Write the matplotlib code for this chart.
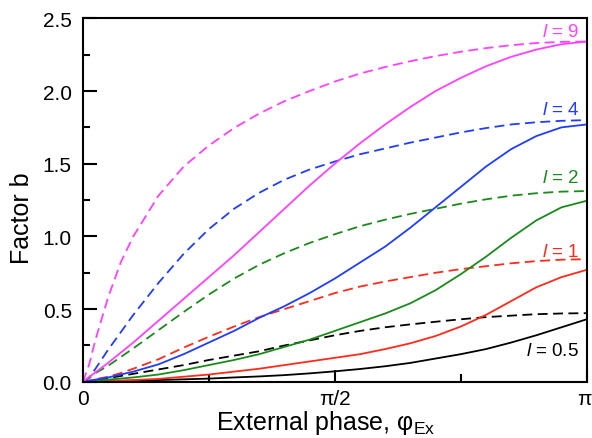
import numpy as np
import matplotlib
matplotlib.use("Agg")
import matplotlib.pyplot as plt
from matplotlib.transforms import ScaledTranslation

plt.rcParams['font.family'] = ['Liberation Sans', 'DejaVu Sans']
plt.rcParams['mathtext.fontset'] = 'custom'
plt.rcParams['mathtext.rm'] = 'Liberation Sans'
plt.rcParams['mathtext.it'] = 'Liberation Sans:italic'

# x positions in units of pi
x_solid = [0, 0.05, 0.1, 0.15, 0.2, 0.25, 0.3, 0.35, 0.4, 0.45, 0.5,
           0.55, 0.6, 0.65, 0.7, 0.75, 0.8, 0.85, 0.9, 0.95, 1.0]
x_dash = [0, 0.0125, 0.025, 0.05, 0.075, 0.1, 0.15, 0.2, 0.25, 0.3, 0.35, 0.4,
          0.45, 0.5, 0.55, 0.6, 0.65, 0.7, 0.75, 0.8, 0.85, 0.9, 0.95, 1.0]

# solid curves
b9 = [0, 0.13, 0.27, 0.42, 0.57, 0.72, 0.87, 1.03, 1.19, 1.35, 1.5,
      1.64, 1.77, 1.89, 2.0, 2.09, 2.17, 2.235, 2.285, 2.322, 2.34]
b4 = [0, 0.03, 0.07, 0.12, 0.19, 0.27, 0.35, 0.44, 0.52, 0.61, 0.71,
      0.82, 0.93, 1.06, 1.2, 1.34, 1.48, 1.6, 1.69, 1.75, 1.77]
b2 = [0, 0.015, 0.03, 0.05, 0.08, 0.115, 0.15, 0.19, 0.24, 0.29, 0.35,
      0.41, 0.47, 0.54, 0.63, 0.74, 0.86, 0.99, 1.11, 1.2, 1.245]
b1 = [0, 0.006, 0.012, 0.02, 0.035, 0.05, 0.07, 0.09, 0.115, 0.14, 0.165,
      0.19, 0.225, 0.265, 0.315, 0.38, 0.46, 0.555, 0.65, 0.72, 0.77]
b05 = [0, 0.004, 0.008, 0.012, 0.017, 0.022, 0.03, 0.037, 0.046, 0.058, 0.072,
       0.088, 0.107, 0.13, 0.16, 0.19, 0.225, 0.27, 0.32, 0.375, 0.43]

# dashed curves
d9 = [0, 0.12, 0.29, 0.58, 0.82, 1.0, 1.28, 1.48, 1.625, 1.745, 1.845, 1.93,
      2.0, 2.065, 2.12, 2.165, 2.205, 2.24, 2.27, 2.295, 2.315, 2.33, 2.338, 2.34]
d4 = [0, 0.03, 0.09, 0.22, 0.34, 0.46, 0.68, 0.88, 1.05, 1.19, 1.3, 1.39,
      1.46, 1.515, 1.565, 1.605, 1.645, 1.68, 1.715, 1.745, 1.77, 1.785, 1.795, 1.8]
d2 = [0, 0.025, 0.06, 0.11, 0.17, 0.23, 0.355, 0.48, 0.6, 0.71, 0.805, 0.885,
      0.955, 1.015, 1.07, 1.115, 1.155, 1.19, 1.225, 1.255, 1.28, 1.297, 1.308, 1.312]
d1 = [0, 0.008, 0.017, 0.035, 0.06, 0.09, 0.155, 0.235, 0.31, 0.38, 0.445, 0.5,
      0.555, 0.61, 0.655, 0.69, 0.72, 0.75, 0.775, 0.795, 0.815, 0.83, 0.84, 0.843]
d05 = [0, 0.005, 0.01, 0.025, 0.04, 0.055, 0.085, 0.115, 0.15, 0.18, 0.21, 0.25,
       0.285, 0.32, 0.35, 0.375, 0.395, 0.413, 0.43, 0.445, 0.455, 0.465, 0.47, 0.472]

labels = ['0.5', '1', '2', '4', '9']
colors = ['black', '#ff2a1a', '#1a8a1a', '#1f3cff', '#ff40ff']
solid = [b05, b1, b2, b4, b9]
dashed = [d05, d1, d2, d4, d9]
label_y = [0.186, 0.867, 1.371, 1.84, 2.377]

fig = plt.figure(figsize=(5.92, 4.39), dpi=100)
ax = fig.add_axes([0.140, 0.128, 0.851, 0.828])

xs = np.array(x_solid) * np.pi
xd = np.array(x_dash) * np.pi
for s, d, c, lab, ly in zip(solid, dashed, colors, labels, label_y):
    ax.plot(xs, s, color=c, lw=1.3)
    ln, = ax.plot(xd, d, color=c, lw=1.3)
    ln.set_dashes((5.5, 3))
    ax.text(0.985 * np.pi, ly, r'$\mathit{l}$ = ' + lab, color=c,
            fontsize=13.5, ha='right', va='baseline')

ax.set_xlim(0, np.pi)
ax.set_ylim(0, 2.5)
ax.set_xticks([0, np.pi / 2, np.pi])
ax.set_xticklabels(['0', 'π/2', 'π'])
ax.set_xticks([np.pi / 4, 3 * np.pi / 4], minor=True)
ax.set_yticks([0, 0.5, 1.0, 1.5, 2.0, 2.5])
ax.set_yticks([0.25, 0.75, 1.25, 1.75, 2.25], minor=True)
ax.tick_params(which='both', direction='in', width=1.5, labelsize=15,
               top=False, right=False)
ax.tick_params(axis='y', which='major', length=10, pad=8)
ax.tick_params(axis='y', which='minor', length=5)
ax.tick_params(axis='x', which='major', length=9, pad=5)
ax.tick_params(axis='x', which='minor', length=6)
for sp in ax.spines.values():
    sp.set_linewidth(1.5)

# keep the last tick label (pi) inside the figure
last = ax.get_xticklabels()[-1]
last.set_transform(last.get_transform() + ScaledTranslation(-2 / 100, 0, fig.dpi_scale_trans))

ax.text(0.482, -0.13, r'External phase, φ$_{\mathrm{Ex}}$', fontsize=18,
        ha='center', va='baseline', transform=ax.transAxes)
ax.text(-0.121, 0.453, 'Factor b', fontsize=18, rotation=90,
        ha='center', va='center', transform=ax.transAxes)

fig.savefig('out.png', dpi=100)
